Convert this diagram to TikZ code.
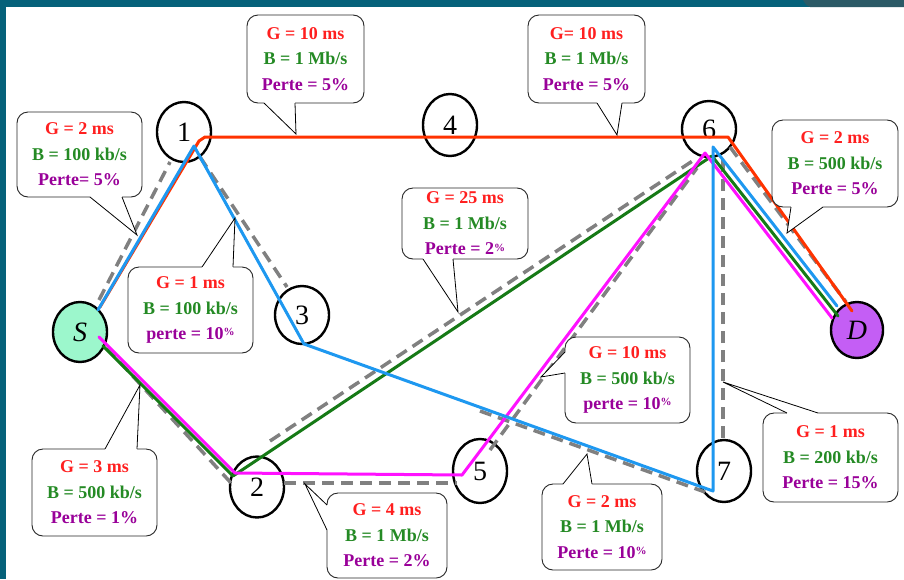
\documentclass[tikz,border=0pt]{standalone}
\usepackage{fontspec}
\setmainfont{Liberation Serif}
\usetikzlibrary{shapes.geometric,calc}
\definecolor{framecol}{HTML}{05617A}
\definecolor{framedark}{HTML}{2B5A66}
\definecolor{redline}{HTML}{FF3300}
\definecolor{blueline}{HTML}{1E98F0}
\definecolor{greenline}{HTML}{167A16}
\definecolor{magline}{HTML}{FF11FF}
\definecolor{dashgray}{HTML}{808080}
\definecolor{txtred}{HTML}{FF1F1F}
\definecolor{txtgreen}{HTML}{248A24}
\definecolor{txtpurple}{HTML}{990099}
\definecolor{sfill}{HTML}{9CF7CC}
\definecolor{dfill}{HTML}{C45EF5}
\newcommand{\lnR}[1]{\textcolor{txtred}{#1}}
\newcommand{\lnG}[1]{\textcolor{txtgreen}{#1}}
\newcommand{\lnP}[1]{\textcolor{txtpurple}{#1}}
\newcommand{\pc}{\raisebox{0.45ex}{\fontsize{11}{11}\selectfont\%}}
\newcommand{\callptr}[4]{%
  \fill[white] (#1) -- (#3) -- (#2) -- ++(#4) -- ($(#1)+(#4)$) -- cycle;
  \draw[ptrline] (#1) -- (#3) -- (#2);}
\begin{document}
\begin{tikzpicture}[x=1pt,y=-1pt,
  router/.style={ellipse, draw=black, line width=2.4pt, minimum width=54pt,
    minimum height=60pt, inner sep=0pt, font=\fontsize{28}{28}\selectfont},
  infobox/.style={draw=black!85, line width=0.9pt, fill=white, rounded corners=11pt,
    inner sep=0pt, align=center, font=\bfseries\fontsize{18}{25.5}\selectfont},
  route/.style={line width=3pt, line join=round, line cap=round},
  dashroute/.style={line width=3.5pt, draw=dashgray, dash pattern=on 12pt off 7pt},
  ptrline/.style={draw=black, line width=0.8pt, line join=miter}]
\useasboundingbox (0,0) rectangle (904,579);
\fill[white] (0,0) rectangle (904,579);
\fill[framecol] (0,0) rectangle (904,7);
\fill[framecol] (0,0) rectangle (6,579);
\fill[framedark] (803,0) -- (904,0) -- (904,7) -- (810,7) .. controls (806,5) .. (803,0) -- cycle;

% routers
\node[router] (n1) at (184,132) {1};
\node[router, minimum height=62pt] (n4) at (450,125) {4};
\node[router, minimum height=56pt] (n6) at (709,129) {6};
\node[router, minimum height=58pt] (n3) at (302,315) {3};
\node[router, minimum height=61pt] (n2) at (257,487) {2};
\node[router, minimum height=64pt] (n5) at (480,471) {5};
\node[router, minimum height=62pt] (n7) at (724,471) {7};
\node[router, fill=sfill] (nS) at (80,332) {\itshape S};
\node[router, fill=dfill, minimum width=52pt, minimum height=56pt] (nD) at (857,330) {\itshape D};

% route vertices
\coordinate (r0) at (100,307); \coordinate (r1) at (199,141); \coordinate (r2) at (205,137);
\coordinate (r3) at (728,137); \coordinate (r4) at (852,311);
\coordinate (b0) at (98,310); \coordinate (b1) at (194,146); \coordinate (b2) at (304,344);
\coordinate (b3) at (713,491); \coordinate (b4) at (713,147); \coordinate (b5) at (837,306);
\coordinate (g0) at (103,346); \coordinate (g1) at (233,476); \coordinate (g2) at (712,156);
\coordinate (g3) at (838,316);
\coordinate (m0) at (99,337); \coordinate (m1) at (235,473); \coordinate (m2) at (462,475);
\coordinate (m3) at (705,153); \coordinate (m4) at (832,318);

% dashed (gray) links
\draw[dashroute] (99,300) -- (170,162);
\draw[dashroute] (200,157) -- (287,287);
\draw[dashroute] (107,348) -- (232,484);
\draw[dashroute] (284,483) -- (457,483);
\draw[dashroute] (270,441) -- (697,158);
\draw[dashroute] (490,450) -- (697,168);
\draw[dashroute] (480,411) -- (705,492);
\draw[dashroute] (723,438) -- (723,160);
\draw[dashroute] (730,147) -- (846,302);

% coloured routes
\draw[route, redline] (r0) -- (r1) -- (r2) -- (r3) -- (r4);
\draw[route, greenline] (g0) -- (g1) -- (g2) -- (g3);
\draw[route, magline] (m0) -- (m1) -- (m2) -- (m3) -- (m4);
\draw[route, blueline] (b0) -- (b1) -- (b2) -- (b3) -- (b4) -- (b5);

% callouts
\node[infobox, minimum width=117pt, minimum height=88pt] (c1) at (305.5,59)
  {\lnR{G = 10 ms}\\\lnG{B = 1 Mb/s}\\\lnP{Perte = 5\%}};
\coordinate (p1a) at (264,103); \coordinate (p1b) at (295,103); \coordinate (t1) at (296,134);
\callptr{p1a}{p1b}{t1}{0,-3}

\node[infobox, minimum width=117pt, minimum height=88pt] (c2) at (586.5,59)
  {\lnR{G= 10 ms}\\\lnG{B = 1 Mb/s}\\\lnP{Perte = 5\%}};
\coordinate (p2a) at (597,103); \coordinate (p2b) at (622,103); \coordinate (t2) at (617,135);
\callptr{p2a}{p2b}{t2}{0,-3}

\node[infobox, minimum width=125pt, minimum height=85pt] (c3) at (79.5,154.5)
  {\lnR{G = 2 ms}\\\lnG{B = 100 kb/s}\\\lnP{Perte= 5\%}};
\coordinate (p3a) at (90,197); \coordinate (p3b) at (122,197); \coordinate (t3) at (137,235);
\callptr{p3a}{p3b}{t3}{0,-3}

\node[infobox, minimum width=125pt, minimum height=86pt] (c4) at (190.5,310)
  {\lnR{G = 1 ms}\\\lnG{B = 100 kb/s}\\\lnP{perte = 10\pc}};
\coordinate (p4a) at (202,267); \coordinate (p4b) at (233,267); \coordinate (t4) at (235,218);
\callptr{p4a}{p4b}{t4}{0,3}

\node[infobox, minimum width=126pt, minimum height=71pt] (c5) at (465,223.5)
  {\lnR{G = 25 ms}\\\lnG{B = 1 Mb/s}\\\lnP{Perte = 2\pc}};
\coordinate (p5a) at (423,259); \coordinate (p5b) at (453,259); \coordinate (t5) at (458,312);
\callptr{p5a}{p5b}{t5}{0,-3}

\node[infobox, minimum width=126pt, minimum height=87pt] (c6) at (835,163.5)
  {\lnR{G = 2 ms}\\\lnG{B = 500 kb/s}\\\lnP{Perte = 5\%}};
\coordinate (p6a) at (791,207); \coordinate (p6b) at (823,207); \coordinate (t6) at (787,233);
\callptr{p6a}{p6b}{t6}{0,-3}

\node[infobox, minimum width=125pt, minimum height=86pt] (c7) at (627.5,380)
  {\lnR{G = 10 ms}\\\lnG{B = 500 kb/s}\\\lnP{perte = 10\pc}};
\coordinate (p7a) at (565,352); \coordinate (p7b) at (565,373); \coordinate (t7) at (541,377);
\callptr{p7a}{p7b}{t7}{3,0}

\node[infobox, minimum width=135pt, minimum height=89pt] (c8) at (830.5,457.5)
  {\lnR{G = 1 ms}\\\lnG{B = 200 kb/s}\\\lnP{Perte = 15\%}};
\coordinate (p8a) at (787,413); \coordinate (p8b) at (818,413); \coordinate (t8) at (723,382);
\callptr{p8a}{p8b}{t8}{0,3}

\node[infobox, minimum width=125pt, minimum height=87pt] (c9) at (94.5,492.5)
  {\lnR{G = 3 ms}\\\lnG{B = 500 kb/s}\\\lnP{Perte = 1\%}};
\coordinate (p9a) at (105,449); \coordinate (p9b) at (137,449); \coordinate (t9) at (140,385);
\callptr{p9a}{p9b}{t9}{0,3}

\node[infobox, minimum width=120pt, minimum height=85pt] (c10) at (387,535.5)
  {\lnR{G = 4 ms}\\\lnG{B = 1 Mb/s}\\\lnP{Perte = 2\%}};
\coordinate (p10a) at (327,505); \coordinate (p10b) at (327,530); \coordinate (t10) at (305,484);
\callptr{p10a}{p10b}{t10}{3,0}

\node[infobox, minimum width=120pt, minimum height=86pt] (c11) at (602,527)
  {\lnR{G = 2 ms}\\\lnG{B = 1 Mb/s}\\\lnP{Perte = 10\pc}};
\coordinate (p11a) at (563,484); \coordinate (p11b) at (592,484); \coordinate (t11) at (587,454);
\callptr{p11a}{p11b}{t11}{0,3}
\end{tikzpicture}
\end{document}
